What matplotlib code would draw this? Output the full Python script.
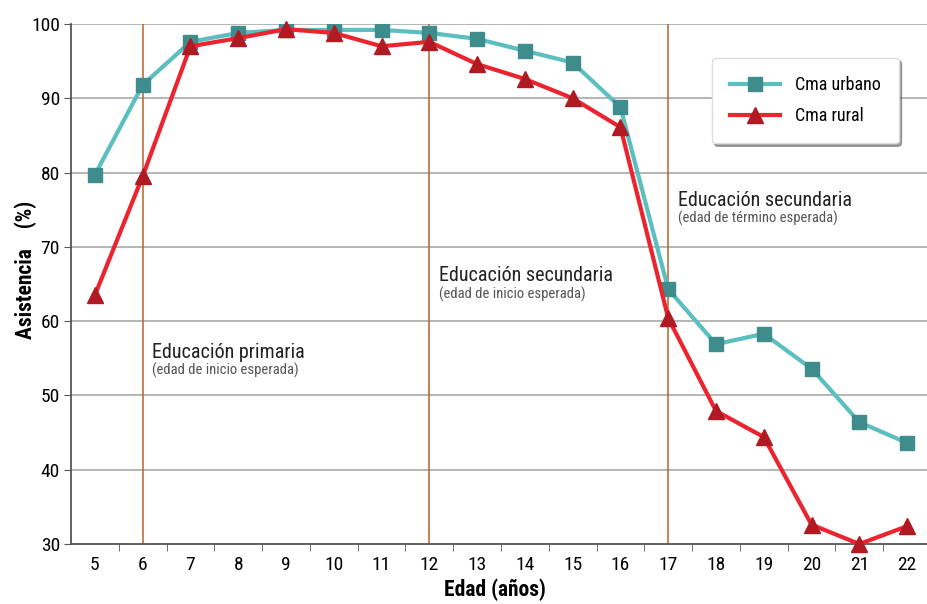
import numpy as np
import matplotlib.pyplot as plt

plt.rcParams['font.family'] = ['Roboto Condensed', 'Liberation Sans', 'DejaVu Sans']

edades = [5, 6, 7, 8, 9, 10, 11, 12, 13, 14, 15, 16, 17, 18, 19, 20, 21, 22]
urbano = [79.7, 91.8, 97.6, 98.8, 99.2, 99.2, 99.2, 98.8, 98.0, 96.4, 94.8, 88.8,
          64.3, 56.9, 58.3, 53.6, 46.4, 43.6]
rural = [63.5, 79.5, 97.0, 98.1, 99.3, 98.8, 97.0, 97.6, 94.6, 92.6, 90.0, 86.1,
         60.4, 47.9, 44.4, 32.6, 30.0, 32.4]
marcas = [6, 12, 17]

fig = plt.figure(figsize=(9.27, 6.04), dpi=100)
ax = fig.add_axes([71 / 927, 1 - 544 / 604, 860 / 927, 520 / 604])

for y in range(40, 101, 10):
    ax.axhline(y, color='#b0b0b0', lw=1.3, zorder=0)
for m in marcas:
    ax.axvline(m, color='#b5652a', lw=1.1, zorder=1)

ax.plot(edades, urbano, color='#5bbfbf', lw=3, marker='s', ms=10,
        mfc='#3e8c8c', mec='#3e8c8c', label='Cma urbano', zorder=3)
ax.plot(edades, rural, color='#ec2430', lw=3, marker='^', ms=11,
        mfc='#b01a22', mec='#b01a22', label='Cma rural', zorder=4,
        clip_on=False)

ax.set_xlim(4.5, 22.5)
ax.set_ylim(30, 100)
ax.set_xticks(edades)
ax.set_xticks(np.arange(5.5, 22.5, 1), minor=True)
ax.tick_params(axis='x', which='major', length=0, labelsize=14, pad=9)
ax.tick_params(axis='x', which='minor', length=5, color='#555555')
ax.set_yticks(range(30, 101, 10))
ax.tick_params(axis='y', length=5, color='#555555', labelsize=14, pad=3)
for s in ['top', 'right']:
    ax.spines[s].set_visible(False)
for s in ['left', 'bottom']:
    ax.spines[s].set_color('#555555')
    ax.spines[s].set_linewidth(1.3)

ax.set_xlabel('Edad (años)', fontsize=15.5, fontweight='bold')
ax.set_ylabel('Asistencia    (%)', fontsize=15.5, fontweight='bold')
ax.xaxis.set_label_coords(0.493, -0.066)
ax.yaxis.set_label_coords(-0.040, 0.527)

ax.text(6.2, 55.0, 'Educación primaria', fontsize=14.5, color='#222222')
ax.text(6.2, 52.8, '(edad de inicio esperada)', fontsize=10.5, color='#555555')
ax.text(12.2, 65.4, 'Educación secundaria', fontsize=14.5, color='#222222')
ax.text(12.2, 63.1, '(edad de inicio esperada)', fontsize=10.5, color='#555555')
ax.text(17.2, 75.5, 'Educación secundaria', fontsize=14.5, color='#222222')
ax.text(17.2, 73.2, '(edad de término esperada)', fontsize=10.5, color='#555555')

leg = ax.legend(loc='upper left', bbox_to_anchor=(0.745, 0.935), fontsize=13,
                frameon=True, fancybox=True, shadow=True, borderpad=1.0,
                labelspacing=0.75, handlelength=2.8, borderaxespad=0)
leg.get_frame().set_edgecolor('#dddddd')
leg.get_frame().set_facecolor('white')
leg.get_frame().set_alpha(1)

fig.savefig('out.png', dpi=100)
